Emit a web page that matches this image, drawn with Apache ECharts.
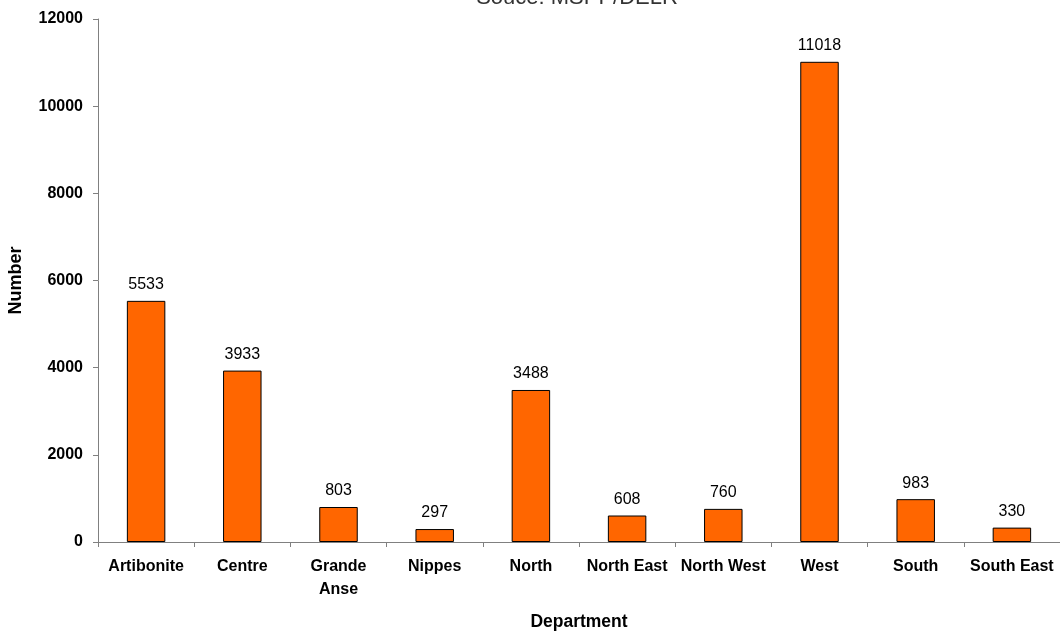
<!DOCTYPE html>
<html><head><meta charset="utf-8">
<script src="https://cdn.jsdelivr.net/npm/echarts@6/dist/echarts.min.js"></script>
<style>html,body{margin:0;padding:0;background:#fff}#c{width:1060px;height:635px}</style>
</head><body><div id="c"></div>
<script>
const categories = ['Artibonite','Centre','Grande Anse','Nippes','North','North East','North West','West','South','South East'];
const values = [5533,3933,803,297,3488,608,760,11018,983,330];
const subtitle = 'Souce: MSPP/DELR';
const chart = echarts.init(document.getElementById('c'), null, {renderer:'canvas'});
const F = '"Liberation Sans", Arial, sans-serif';
chart.setOption({
  animation:false,
  backgroundColor:'#fff',
  graphic:[{type:'text', x:577, y:9, style:{text:subtitle, font:'22px '+F, fill:'#333', align:'center', verticalAlign:'bottom'}}],
  grid:{left:98, right:0, top:19, bottom:93, containLabel:false, outerBoundsMode:'none'},
  xAxis:{type:'category', data:categories,
    axisLine:{lineStyle:{color:'#808080', width:1}},
    axisTick:{show:true, alignWithLabel:false, length:5, lineStyle:{color:'#808080'}},
    axisLabel:{interval:0, margin:13, color:'#000', fontFamily:F, fontWeight:'bold', fontSize:16, lineHeight:23,
      formatter:v=>v==='Grande Anse'?'Grande\nAnse':v},
    name:'Department', nameLocation:'middle', nameGap:71,
    nameTextStyle:{color:'#000', fontFamily:F, fontWeight:'bold', fontSize:17.5}},
  yAxis:{type:'value', min:0, max:12000, interval:2000,
    axisLine:{show:true, lineStyle:{color:'#808080', width:1}},
    axisTick:{show:true, length:5, lineStyle:{color:'#808080'}},
    splitLine:{show:false},
    axisLabel:{margin:15, color:'#000', fontFamily:F, fontWeight:'bold', fontSize:16, formatter:v=>String(v)},
    name:'Number', nameLocation:'middle', nameGap:73, nameRotate:90,
    nameTextStyle:{color:'#000', fontFamily:F, fontWeight:'bold', fontSize:18}},
  series:[{type:'bar', data:values, barWidth:'40%',
    itemStyle:{color:'#FF6600', borderColor:'#000', borderWidth:1},
    label:{show:true, position:'top', distance:8, color:'#000', fontFamily:F, fontSize:16}}]
});
</script></body></html>
